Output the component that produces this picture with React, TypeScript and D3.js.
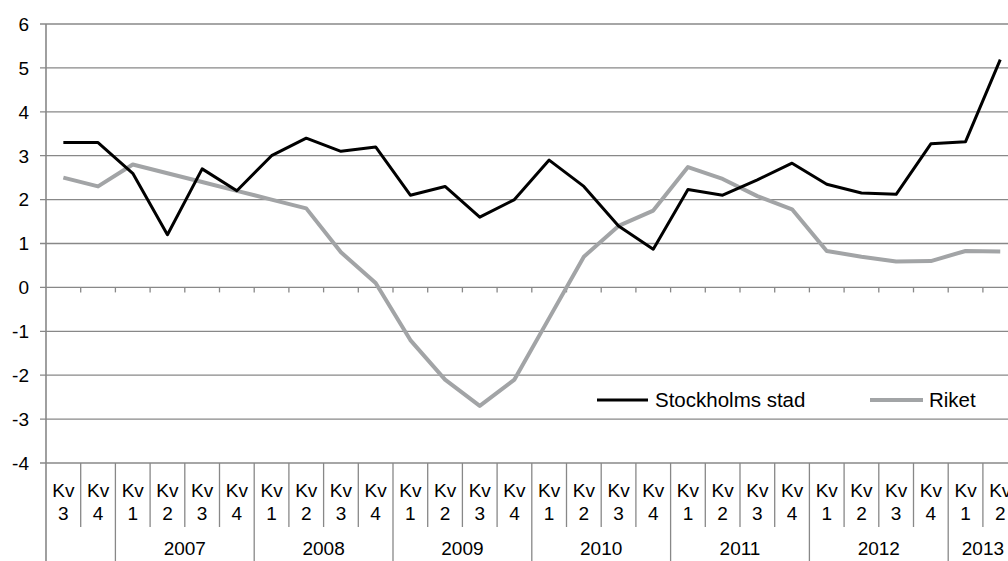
import React from "react";
import * as d3 from "d3";

// quarters, first two belong to 2006 (no year label shown)
const quarters = [
  "3", "4",
  "1", "2", "3", "4",
  "1", "2", "3", "4",
  "1", "2", "3", "4",
  "1", "2", "3", "4",
  "1", "2", "3", "4",
  "1", "2", "3", "4",
  "1", "2",
];
const years = ["", "2007", "2008", "2009", "2010", "2011", "2012", "2013"];
const yearSizes = [2, 4, 4, 4, 4, 4, 4, 2];

const stockholm = [
  3.3, 3.3, 2.6, 1.2, 2.7, 2.2, 3.0, 3.4, 3.1, 3.2, 2.1, 2.3, 1.6, 2.0,
  2.9, 2.3, 1.4, 0.87, 2.23, 2.1, 2.45, 2.83, 2.35, 2.15, 2.12, 3.27, 3.32, 5.19,
];
const riket = [
  2.5, 2.3, 2.8, 2.6, 2.4, 2.2, 2.0, 1.8, 0.8, 0.1, -1.2, -2.1, -2.7, -2.1,
  -0.7, 0.7, 1.4, 1.75, 2.74, 2.47, 2.08, 1.78, 0.83, 0.7, 0.59, 0.6, 0.83, 0.82,
];
const yTicks = [-4, -3, -2, -1, 0, 1, 2, 3, 4, 5, 6];

const W = 1008;
const H = 561;
const left = 46;
const step = 34.7;
const top = 24;
const bottom = 463;
const font = "'Liberation Sans', Arial, sans-serif";
const gridColor = "#888888";
const fs = 19;

export default function App() {
  const idx = quarters.map((_, i) => String(i));
  const x = d3.scaleBand().domain(idx).range([left, left + step * quarters.length]);
  const y = d3.scaleLinear().domain([-4, 6]).range([bottom, top]);
  const cx = (i: number) => (x(String(i)) as number) + x.bandwidth() / 2;

  const line = d3
    .line<number>()
    .x((_, i) => cx(i))
    .y((d) => y(d));

  // year group boundaries (cumulative category counts)
  const starts: number[] = [];
  yearSizes.reduce((acc, n) => {
    starts.push(acc);
    return acc + n;
  }, 0);
  const edge = (i: number) => left + i * x.step();

  return (
    <svg
      width={W}
      height={H}
      style={{ position: "absolute", left: 0, top: 0, background: "#fff" }}
      fontFamily={font}
    >
      {/* gridlines */}
      {yTicks.map((t) => (
        <g key={t}>
          <line x1={40} x2={W} y1={y(t)} y2={y(t)} stroke={gridColor} strokeWidth={1.3} />
          <text x={29} y={y(t)} dy="0.36em" textAnchor="end" fontSize={fs} fill="#000">
            {t}
          </text>
        </g>
      ))}
      {/* y axis */}
      <line x1={left} x2={left} y1={top} y2={H} stroke={gridColor} strokeWidth={1.6} />
      {/* small ticks on zero line */}
      {quarters.map((_, i) =>
        i === 0 ? null : (
          <line key={i} x1={edge(i)} x2={edge(i)} y1={y(0)} y2={y(0) + 5} stroke={gridColor} strokeWidth={1.3} />
        )
      )}
      {/* category separators and labels */}
      {quarters.map((q, i) => {
        const isYearEdge = starts.includes(i);
        return (
          <g key={"c" + i}>
            {i > 0 && (
              <line
                x1={edge(i)}
                x2={edge(i)}
                y1={bottom}
                y2={isYearEdge ? H : 527}
                stroke={gridColor}
                strokeWidth={1.3}
              />
            )}
            <text x={cx(i)} y={497} textAnchor="middle" fontSize={fs}>
              Kv
            </text>
            <text x={cx(i)} y={520} textAnchor="middle" fontSize={fs}>
              {q}
            </text>
          </g>
        );
      })}
      {years.map((yr, k) => {
        const mid = (edge(starts[k]) + edge(starts[k] + yearSizes[k])) / 2;
        return (
          <text key={"y" + k} x={mid} y={555} textAnchor="middle" fontSize={fs}>
            {yr}
          </text>
        );
      })}
      {/* series */}
      <path d={line(riket) ?? ""} fill="none" stroke="#a2a4a6" strokeWidth={4} strokeLinejoin="round" />
      <path d={line(stockholm) ?? ""} fill="none" stroke="#000" strokeWidth={3} strokeLinejoin="round" />
      {/* legend */}
      <line x1={597} x2={648} y1={400} y2={400} stroke="#000" strokeWidth={3} />
      <text x={655} y={400} dy="0.36em" fontSize={20.5}>
        Stockholms stad
      </text>
      <line x1={870} x2={923} y1={400} y2={400} stroke="#a2a4a6" strokeWidth={4} />
      <text x={929} y={400} dy="0.36em" fontSize={20.5}>
        Riket
      </text>
    </svg>
  );
}
